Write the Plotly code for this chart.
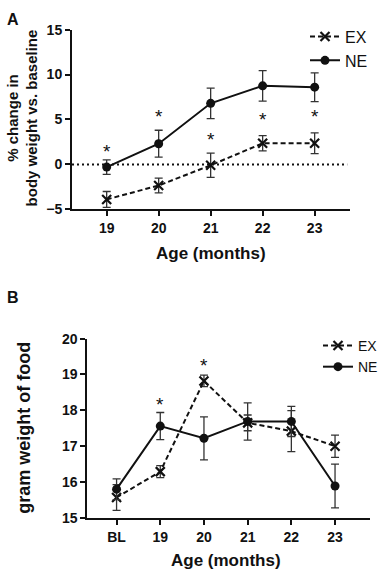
import plotly.graph_objects as go

# ---------------- Panel A data ----------------
months_a = ["19", "20", "21", "22", "23"]
ex_a = [-3.9, -2.35, -0.1, 2.35, 2.35]
ex_a_err = [0.88, 0.82, 1.35, 0.85, 1.15]
ne_a = [-0.3, 2.3, 6.8, 8.75, 8.6]
ne_a_err = [0.8, 1.5, 1.7, 1.7, 1.6]
star_a_x = ["19", "20", "21", "22", "23"]
star_a_y = [1.9, 5.75, 3.25, 5.45, 5.75]
yticks_a = [-5, 0, 5, 10, 15]

# ---------------- Panel B data ----------------
months_b = ["BL", "19", "20", "21", "22", "23"]
ex_b = [15.57, 16.29, 18.82, 17.65, 17.42, 17.0]
ex_b_err = [0.36, 0.17, 0.16, 0.22, 0.57, 0.31]
ne_b = [15.8, 17.56, 17.22, 17.69, 17.69, 15.89]
ne_b_err = [0.29, 0.38, 0.6, 0.52, 0.42, 0.61]
star_b_x = ["19", "20"]
star_b_y = [18.28, 19.37]
yticks_b = [15, 16, 17, 18, 19, 20]

FONT = "Liberation Sans, Arial, sans-serif"
INK = "#111111"
W, H = 383, 581


def X(sx):
    return sx / W


def Y(sy):
    return (H - sy) / H


fig = go.Figure()


def add_pair(xs, ex, exe, ne, nee, xa, ya, legend):
    fig.add_trace(go.Scatter(
        x=xs, y=ex, name="EX", mode="lines+markers", xaxis=xa, yaxis=ya, legend=legend,
        line=dict(color=INK, width=2, dash="5px,3px"),
        marker=dict(symbol="x-thin-open", size=9, line=dict(color=INK, width=2.2), color=INK),
        error_y=dict(type="data", array=exe, visible=True, color="#333333", thickness=1.3, width=4),
    ))
    fig.add_trace(go.Scatter(
        x=xs, y=ne, name="NE", mode="lines+markers", xaxis=xa, yaxis=ya, legend=legend,
        line=dict(color=INK, width=2),
        marker=dict(symbol="circle", size=9, color=INK),
        error_y=dict(type="data", array=nee, visible=True, color="#333333", thickness=1.3, width=4),
    ))


add_pair(months_a, ex_a, ex_a_err, ne_a, ne_a_err, "x", "y", "legend")
add_pair(months_b, ex_b, ex_b_err, ne_b, ne_b_err, "x2", "y2", "legend2")

# asterisks as text (category index positions)
for sx, sy in zip(star_a_x, star_a_y):
    fig.add_annotation(x=months_a.index(sx), y=sy, xref="x", yref="y", text="*", showarrow=False,
                       font=dict(family=FONT, size=19, color=INK), yshift=-4)
for sx, sy in zip(star_b_x, star_b_y):
    fig.add_annotation(x=months_b.index(sx), y=sy, xref="x2", yref="y2", text="*", showarrow=False,
                       font=dict(family=FONT, size=19, color=INK), yshift=-4)

# dotted zero line in panel A
fig.add_shape(type="line", xref="x domain", yref="y", x0=0, x1=0.99, y0=0, y1=0,
              line=dict(color=INK, width=2, dash="2px,3px"))

tickfont = dict(family=FONT, size=14, color=INK, weight="bold")
axis_common = dict(showline=True, linecolor=INK, linewidth=2, ticks="outside", ticklen=5,
                   tickwidth=2, tickcolor=INK, showgrid=False, zeroline=False, tickfont=tickfont)

fig.update_layout(
    width=W, height=H,
    margin=dict(l=0, r=0, t=0, b=0),
    paper_bgcolor="white", plot_bgcolor="white",
    font=dict(family=FONT, color=INK),
    xaxis=dict(domain=[X(72), X(350)], anchor="y", type="category",
               range=[-0.667, 4.68], **axis_common),
    yaxis=dict(domain=[Y(207), Y(22.3)], anchor="x", range=[-5, 15],
               tickvals=yticks_a, **axis_common),
    xaxis2=dict(domain=[X(87.3), X(370)], anchor="y2", type="category",
                range=[-0.67, 5.8], **axis_common),
    yaxis2=dict(domain=[Y(524.3), Y(340)], anchor="x2", range=[15, 20],
                tickvals=yticks_b, **axis_common),
    legend=dict(x=X(305), y=Y(12), xanchor="left", yanchor="top",
                font=dict(family=FONT, size=16, color=INK), bgcolor="rgba(0,0,0,0)",
                itemwidth=30, tracegroupgap=0),
    legend2=dict(x=X(318), y=Y(331), xanchor="left", yanchor="top",
                 font=dict(family=FONT, size=14, color=INK), bgcolor="rgba(0,0,0,0)",
                 itemwidth=30, tracegroupgap=0),
    showlegend=True,
)

bold = dict(family=FONT, color=INK, weight="bold")
# panel labels
fig.add_annotation(x=X(13), y=Y(12), xref="paper", yref="paper", text="A", showarrow=False,
                   font=dict(size=16, **bold), xanchor="center", yanchor="middle")
fig.add_annotation(x=X(13), y=Y(298), xref="paper", yref="paper", text="B", showarrow=False,
                   font=dict(size=16, **bold), xanchor="center", yanchor="middle")
# axis titles
fig.add_annotation(x=0.5, y=Y(252), xref="x domain", yref="paper", text="Age (months)",
                   showarrow=False, font=dict(size=17, **bold), xanchor="center", yanchor="middle")
fig.add_annotation(x=0.49, y=Y(568), xref="x2 domain", yref="paper", text="Age (months)",
                   showarrow=False, font=dict(size=17, **bold), xanchor="center", yanchor="middle")
fig.add_annotation(x=X(22.5), y=Y(113), xref="paper", yref="paper",
                   text="% change in<br>body weight vs. baseline", textangle=-90,
                   showarrow=False, font=dict(size=15, **bold), xanchor="center", yanchor="middle")
fig.add_annotation(x=X(24), y=Y(431.7), xref="paper", yref="paper",
                   text="gram weight of food", textangle=-90,
                   showarrow=False, font=dict(size=18, **bold), xanchor="center", yanchor="middle")

# remove the default page margin so the figure fills the window exactly
fig.write_html("out.html", config={"displayModeBar": False},
               post_script="document.body.style.margin='0';")
